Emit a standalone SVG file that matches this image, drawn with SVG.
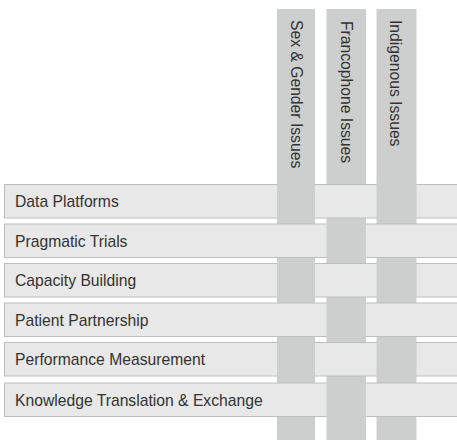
<svg xmlns="http://www.w3.org/2000/svg" width="457" height="440" viewBox="0 0 457 440">
  <style>
    .col { fill: #cdcfce; }
    .row { fill: #e7e8e7; stroke: #bdbebd; stroke-width: 1; }
    .lbl { font-family: "Liberation Sans", Arial, sans-serif; font-size: 15.7px; fill: #333333; }
  </style>
  <rect width="457" height="440" fill="#ffffff"/>

  <!-- columns (base) -->
  <g id="col-sex-gender">
    <rect class="col" x="277" y="9" width="38" height="431"/>
    <text class="lbl" transform="translate(290.5,20) rotate(90)">Sex &amp; Gender Issues</text>
  </g>
  <g id="col-francophone">
    <rect class="col" x="326.5" y="9" width="39.5" height="431"/>
    <text class="lbl" transform="translate(340.5,21) rotate(90)">Francophone Issues</text>
  </g>
  <g id="col-indigenous">
    <rect class="col" x="376.5" y="9" width="40" height="431"/>
    <text class="lbl" transform="translate(389.5,20) rotate(90)">Indigenous Issues</text>
  </g>

  <!-- rows -->
  <g id="row-data-platforms">
    <rect class="row" x="4.5" y="184.5" width="460" height="33.5"/>
    <text class="lbl" x="15" y="207">Data Platforms</text>
  </g>
  <g id="row-pragmatic-trials">
    <rect class="row" x="4.5" y="224" width="460" height="33.5"/>
    <text class="lbl" x="15" y="246.5">Pragmatic Trials</text>
  </g>
  <g id="row-capacity-building">
    <rect class="row" x="4.5" y="263.5" width="460" height="33.5"/>
    <text class="lbl" x="15" y="286">Capacity Building</text>
  </g>
  <g id="row-patient-partnership">
    <rect class="row" x="4.5" y="303" width="460" height="33.5"/>
    <text class="lbl" x="15" y="325.5">Patient Partnership</text>
  </g>
  <g id="row-performance-measurement">
    <rect class="row" x="4.5" y="342.5" width="460" height="33.5"/>
    <text class="lbl" x="15" y="365">Performance Measurement</text>
  </g>
  <g id="row-knowledge-translation">
    <rect class="row" x="4.5" y="383" width="460" height="33.5"/>
    <text class="lbl" x="15" y="405.5">Knowledge Translation &amp; Exchange</text>
  </g>

  <!-- weave: column segments passing over rows -->
  <g id="weave">
    <rect class="col" x="277" y="183" width="38" height="36"/>
    <rect class="col" x="376.5" y="183" width="40" height="36"/>
    <rect class="col" x="326.5" y="222.5" width="39.5" height="36"/>
    <rect class="col" x="277" y="262" width="38" height="36"/>
    <rect class="col" x="376.5" y="262" width="40" height="36"/>
    <rect class="col" x="326.5" y="301.5" width="39.5" height="36"/>
    <rect class="col" x="277" y="341" width="38" height="36"/>
    <rect class="col" x="376.5" y="341" width="40" height="36"/>
    <rect class="col" x="326.5" y="381.5" width="39.5" height="36"/>
  </g>
</svg>
